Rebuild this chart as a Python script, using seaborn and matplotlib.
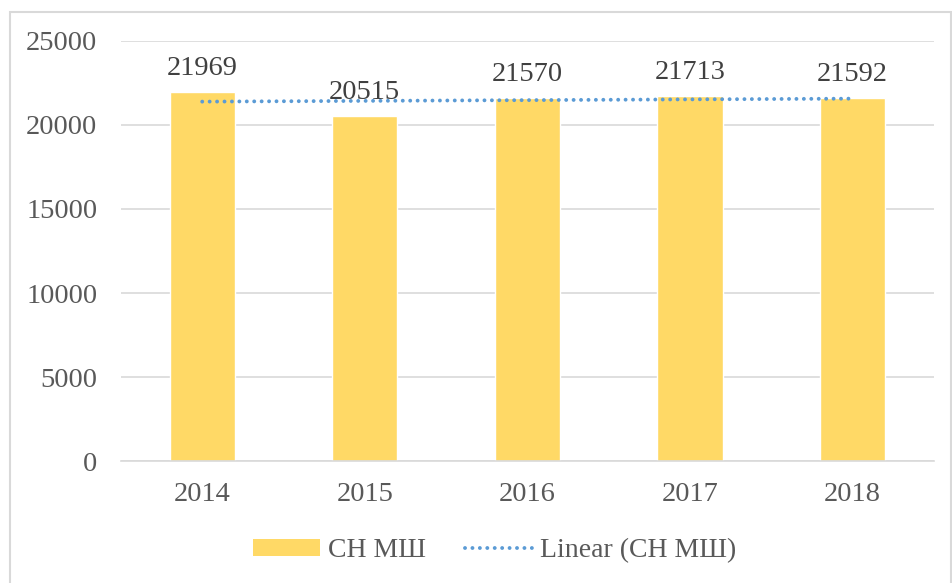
import numpy as np
import matplotlib
matplotlib.use("Agg")
import matplotlib.pyplot as plt
import seaborn as sns
from matplotlib.patches import Rectangle, Patch
from matplotlib.lines import Line2D

years = ["2014", "2015", "2016", "2017", "2018"]
values = [21969, 20515, 21570, 21713, 21592]
series_name = "СН МШ"
trend_name = "Linear (СН МШ)"

bar_color = "#FFD966"
trend_color = "#5B9BD5"
grid_color = "#D9D9D9"

sns.set_theme(style="white")
plt.rcParams['font.family'] = ['Liberation Serif', 'DejaVu Serif']

fig = plt.figure(figsize=(9.52, 5.83), dpi=100)
ax = fig.add_axes([0.127, 0.209, 0.854, 0.721])

sns.barplot(x=years, y=values, color=bar_color, width=0.4, saturation=1, ax=ax)

# linear trend
xs = np.arange(len(values))
k, b = np.polyfit(xs, values, 1)
dots = (0, (0.01, 1.9))
ax.plot(xs, k * xs + b, color=trend_color, lw=2.8,
        linestyle=dots, dash_capstyle="round", zorder=3)

ax.bar_label(ax.containers[0], labels=[str(v) for v in values],
             padding=8, fontsize=20.5, color="#404040")

ax.set_ylim(0, 25000)
ax.set_yticks(range(0, 25001, 5000))
ax.set_xlim(-0.5, len(years) - 0.5)
ax.yaxis.grid(True, color=grid_color, lw=1.2)
ax.set_axisbelow(True)
for s in ["top", "right", "left"]:
    ax.spines[s].set_visible(False)
ax.spines["bottom"].set_color(grid_color)
ax.spines["bottom"].set_linewidth(1.2)
ax.tick_params(axis="both", length=0, labelsize=20.5, labelcolor="#595959")
ax.tick_params(axis="y", pad=17)
ax.tick_params(axis="x", pad=15)
ax.set_xlabel("")
ax.set_ylabel("")

handles = [Patch(facecolor=bar_color, edgecolor="none"),
           Line2D([0], [0], color=trend_color, lw=2.8,
                  linestyle=dots, dash_capstyle="round")]
fig.legend(handles, [series_name, trend_name], loc="center",
           bbox_to_anchor=(0.52, 0.055), ncol=2, frameon=False,
           fontsize=20, labelcolor="#595959", handlelength=2.4,
           handleheight=0.6, columnspacing=1.4, handletextpad=0.3)

# chart border
fig.add_artist(Rectangle((0.011, -0.01), 0.988, 0.99, transform=fig.transFigure,
                         fill=False, edgecolor=grid_color, lw=1.5))

fig.savefig("out.png", dpi=100)
